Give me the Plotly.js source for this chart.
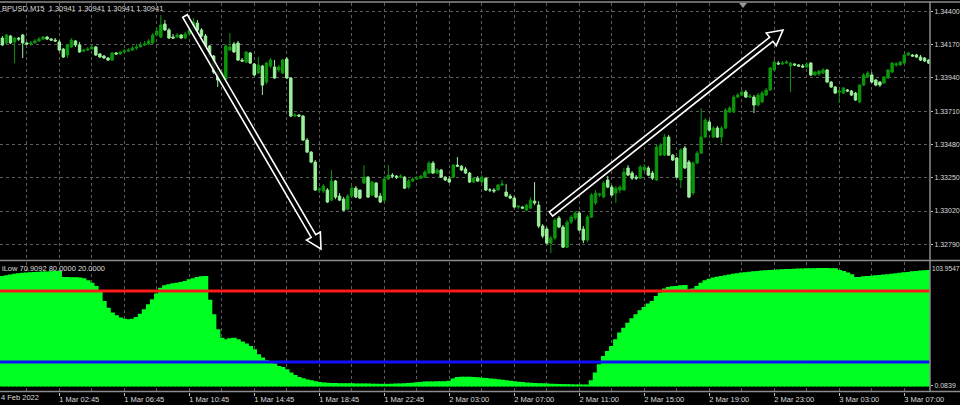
<!DOCTYPE html>
<html>
<head>
<meta charset="utf-8">
<script src="https://cdn.plot.ly/plotly-3.0.1.min.js"></script>
<style>html,body{margin:0;padding:0;background:#000;}#chart{width:960px;height:405px;}</style>
</head>
<body>
<div id="chart"></div>
<script>
// ---- Data (GBPUSD M15 candles) ----
const opens = [
1.34215,1.34181,1.34229,1.34188,1.34215,1.34236,1.34181,1.34174,1.34181,1.34195,
1.34208,1.34222,1.34208,1.34201,1.34188,1.34139,1.34098,1.34153,1.34195,1.34167,
1.34125,1.34132,1.34139,1.34153,1.34105,1.34091,1.34077,1.34063,1.34112,1.34105,
1.34119,1.34125,1.34132,1.34146,1.34153,1.34167,1.34174,1.34181,1.34236,1.34222,
1.34312,1.34271,1.34222,1.34222,1.34236,1.34215,1.34243,1.34271,1.34319,1.34271,
1.34229,1.34160,1.34091,1.33980,1.33925,1.33932,1.34132,1.34174,1.34181,1.34063,
1.34049,1.34112,1.34036,1.33973,1.34022,1.33911,1.34022,1.34015,1.33994,1.33973,
1.34070,1.33939,1.33676,1.33683,1.33676,1.33510,1.33427,1.33358,1.33165,1.33158,
1.33165,1.33095,1.33227,1.33123,1.33102,1.33033,1.33123,1.33178,1.33165,1.33213,
1.33254,1.33130,1.33213,1.33123,1.33095,1.33241,1.33268,1.33261,1.33254,1.33254,
1.33185,1.33227,1.33241,1.33247,1.33254,1.33282,1.33351,1.33282,1.33303,1.33254,
1.33241,1.33254,1.33337,1.33330,1.33310,1.33282,1.33220,1.33247,1.33220,1.33247,
1.33165,1.33165,1.33165,1.33199,1.33151,1.33123,1.33109,1.33047,1.33047,1.33026,
1.33040,1.33088,1.33061,1.32916,1.32895,1.32798,1.32833,1.32971,1.32909,1.32770,
1.32943,1.32971,1.33006,1.32895,1.32819,1.32978,1.33075,1.33130,1.33116,1.33234,
1.33185,1.33144,1.33165,1.33165,1.33317,1.33282,1.33254,1.33247,1.33303,1.33317,
1.33282,1.33234,1.33406,1.33406,1.33531,1.33406,1.33386,1.33234,1.33455,1.33358,
1.33144,1.33351,1.33420,1.33531,1.33635,1.33531,1.33593,1.33531,1.33593,1.33704,
1.33704,1.33807,1.33821,1.33842,1.33807,1.33807,1.33752,1.33773,1.33821,1.33856,
1.33994,1.34042,1.34036,1.34042,1.34022,1.34036,1.34029,1.34022,1.34015,1.34042,
1.33960,1.33966,1.33973,1.33994,1.33911,1.33877,1.33842,1.33835,1.33856,1.33849,
1.33835,1.33773,1.33890,1.33946,1.33960,1.33925,1.33911,1.33904,1.33939,1.33980,
1.34029,1.34029,1.34042,1.34098,1.34098,1.34098,1.34084,1.34077,1.34063
];
const highs = [
1.34229,1.34243,1.34236,1.34222,1.34222,1.34243,1.34188,1.34195,1.34208,1.34222,
1.34229,1.34229,1.34215,1.34215,1.34201,1.34146,1.34174,1.34215,1.34201,1.34188,
1.34139,1.34153,1.34167,1.34160,1.34112,1.34098,1.34084,1.34119,1.34119,1.34125,
1.34139,1.34146,1.34160,1.34174,1.34188,1.34195,1.34208,1.34250,1.34291,1.34374,
1.34340,1.34284,1.34243,1.34250,1.34243,1.34257,1.34298,1.34354,1.34340,1.34284,
1.34243,1.34167,1.34098,1.34008,1.34001,1.34174,1.34250,1.34188,1.34195,1.34077,
1.34125,1.34119,1.34042,1.34084,1.34029,1.34049,1.34077,1.34063,1.34029,1.34070,
1.34084,1.33946,1.33697,1.33690,1.33683,1.33524,1.33434,1.33372,1.33185,1.33206,
1.33178,1.33303,1.33234,1.33144,1.33116,1.33137,1.33192,1.33192,1.33165,1.33337,
1.33261,1.33227,1.33220,1.33144,1.33261,1.33337,1.33282,1.33268,1.33275,1.33261,
1.33241,1.33254,1.33261,1.33268,1.33303,1.33365,1.33365,1.33317,1.33310,1.33261,
1.33261,1.33344,1.33393,1.33337,1.33324,1.33289,1.33254,1.33261,1.33268,1.33254,
1.33178,1.33178,1.33206,1.33234,1.33206,1.33137,1.33123,1.33061,1.33054,1.33068,
1.33116,1.33220,1.33088,1.32929,1.32909,1.32847,1.32971,1.32985,1.32923,1.32957,
1.32992,1.33019,1.33019,1.32916,1.32992,1.33144,1.33165,1.33144,1.33227,1.33261,
1.33199,1.33192,1.33199,1.33317,1.33337,1.33296,1.33268,1.33337,1.33344,1.33330,
1.33296,1.33476,1.33489,1.33552,1.33545,1.33413,1.33393,1.33455,1.33469,1.33372,
1.33365,1.33434,1.33731,1.33662,1.33648,1.33607,1.33607,1.33607,1.33731,1.33745,
1.33821,1.33835,1.33856,1.33856,1.33828,1.33821,1.33835,1.33849,1.33870,1.34015,
1.34063,1.34056,1.34056,1.34063,1.34049,1.34042,1.34036,1.34036,1.34049,1.34049,
1.33987,1.33994,1.34008,1.34001,1.33918,1.33883,1.33856,1.33877,1.33863,1.33856,
1.33842,1.33897,1.33973,1.33987,1.33980,1.33932,1.33918,1.33953,1.34001,1.34049,
1.34049,1.34056,1.34105,1.34119,1.34105,1.34105,1.34098,1.34084,1.34070
];
const lows = [
1.34160,1.34174,1.34174,1.34042,1.34195,1.34077,1.34167,1.34160,1.34181,1.34188,
1.34201,1.34201,1.34195,1.34188,1.34125,1.34077,1.34077,1.34146,1.34153,1.34112,
1.34119,1.34125,1.34139,1.34091,1.34077,1.34070,1.34056,1.34056,1.34098,1.34098,
1.34112,1.34119,1.34125,1.34132,1.34153,1.34160,1.34167,1.34174,1.34229,1.34215,
1.34264,1.34208,1.34208,1.34215,1.34208,1.34208,1.34236,1.34264,1.34264,1.34222,
1.34153,1.34077,1.33966,1.33877,1.33918,1.33925,1.34125,1.34112,1.34056,1.34049,
1.34042,1.34036,1.33953,1.33966,1.33821,1.33897,1.34008,1.33932,1.33980,1.33966,
1.33932,1.33669,1.33669,1.33669,1.33503,1.33420,1.33351,1.33158,1.33144,1.33144,
1.33075,1.33088,1.33102,1.33088,1.33019,1.33026,1.33123,1.33109,1.33102,1.33206,
1.33109,1.33123,1.33109,1.33075,1.33082,1.33234,1.33247,1.33241,1.33247,1.33171,
1.33171,1.33220,1.33234,1.33241,1.33247,1.33275,1.33275,1.33275,1.33247,1.33227,
1.33213,1.33247,1.33324,1.33296,1.33275,1.33213,1.33213,1.33220,1.33213,1.33158,
1.33151,1.33144,1.33158,1.33192,1.33116,1.33102,1.33040,1.33033,1.33033,1.33019,
1.33033,1.33061,1.32902,1.32833,1.32791,1.32729,1.32819,1.32902,1.32764,1.32764,
1.32929,1.32957,1.32881,1.32798,1.32805,1.32971,1.33061,1.33116,1.33109,1.33178,
1.33123,1.33075,1.33144,1.33158,1.33261,1.33234,1.33234,1.33241,1.33296,1.33261,
1.33234,1.33227,1.33400,1.33400,1.33400,1.33365,1.33247,1.33178,1.33310,1.33109,
1.33130,1.33344,1.33413,1.33524,1.33572,1.33524,1.33524,1.33489,1.33586,1.33697,
1.33697,1.33801,1.33814,1.33801,1.33801,1.33697,1.33745,1.33766,1.33814,1.33849,
1.33987,1.34029,1.34029,1.34036,1.33842,1.34022,1.34015,1.34008,1.34008,1.33953,
1.33953,1.33953,1.33966,1.33904,1.33870,1.33828,1.33766,1.33828,1.33842,1.33814,
1.33780,1.33766,1.33883,1.33939,1.33904,1.33883,1.33877,1.33897,1.33932,1.33973,
1.34015,1.34022,1.34036,1.34091,1.34084,1.34077,1.34056,1.34049,1.34036
];
const closes = [
1.34167,1.34236,1.34181,1.34215,1.34208,1.34181,1.34174,1.34181,1.34195,1.34208,
1.34222,1.34208,1.34201,1.34195,1.34132,1.34084,1.34167,1.34201,1.34167,1.34119,
1.34132,1.34139,1.34153,1.34098,1.34084,1.34077,1.34063,1.34112,1.34105,1.34119,
1.34125,1.34132,1.34146,1.34153,1.34167,1.34174,1.34195,1.34236,1.34264,1.34305,
1.34271,1.34215,1.34215,1.34236,1.34215,1.34243,1.34271,1.34326,1.34271,1.34229,
1.34160,1.34091,1.33980,1.33925,1.33973,1.34160,1.34153,1.34119,1.34063,1.34056,
1.34119,1.34042,1.33960,1.34029,1.33890,1.34042,1.34063,1.33939,1.34015,1.34063,
1.33939,1.33676,1.33683,1.33676,1.33510,1.33427,1.33358,1.33165,1.33171,1.33192,
1.33082,1.33227,1.33116,1.33095,1.33026,1.33123,1.33178,1.33116,1.33109,1.33254,
1.33116,1.33220,1.33116,1.33082,1.33241,1.33268,1.33261,1.33254,1.33261,1.33178,
1.33227,1.33241,1.33247,1.33261,1.33289,1.33351,1.33282,1.33303,1.33254,1.33234,
1.33220,1.33337,1.33330,1.33303,1.33282,1.33220,1.33247,1.33227,1.33254,1.33165,
1.33165,1.33158,1.33199,1.33206,1.33123,1.33109,1.33047,1.33054,1.33040,1.33061,
1.33095,1.33075,1.32916,1.32847,1.32798,1.32833,1.32957,1.32909,1.32770,1.32943,
1.32978,1.33006,1.32888,1.32819,1.32978,1.33130,1.33144,1.33137,1.33213,1.33185,
1.33130,1.33178,1.33185,1.33289,1.33268,1.33247,1.33247,1.33324,1.33324,1.33268,
1.33247,1.33462,1.33476,1.33531,1.33406,1.33372,1.33254,1.33441,1.33317,1.33116,
1.33351,1.33420,1.33531,1.33648,1.33579,1.33593,1.33531,1.33593,1.33718,1.33731,
1.33807,1.33821,1.33842,1.33807,1.33814,1.33752,1.33821,1.33835,1.33856,1.34008,
1.34049,1.34036,1.34042,1.34049,1.34042,1.34029,1.34022,1.34015,1.34036,1.33960,
1.33980,1.33987,1.33994,1.33911,1.33877,1.33835,1.33849,1.33870,1.33849,1.33821,
1.33787,1.33890,1.33960,1.33973,1.33911,1.33890,1.33890,1.33946,1.33994,1.34042,
1.34036,1.34049,1.34098,1.34112,1.34091,1.34084,1.34063,1.34056,1.34042
];
// Indicator histogram (lower pane)
const indicator = [
92.1,92.8,93.5,94.0,94.4,94.8,95.1,95.3,95.5,95.7,95.9,96.0,96.2,96.3,96.4,
91.2,91.2,91.0,91.0,90.8,
90.2,88.5,86.5,83.7,79.5,71.0,65.4,61.2,58.9,57.0,56.1,55.5,56.1,57.5,60.3,64.0,68.2,72.4,77.3,82.3,84.3,85.1,86.0,86.5,87.1,87.9,89.3,90.2,91.3,91.9,92.1,
72.0,59.8,47.1,40.0,38.6,39.5,40.0,38.6,36.7,35.0,33.0,30.2,26.0,23.2,20.9,20.3,18.1,16.1,15.2,13.3,10.5,8.5,6.8,5.7,4.6,4.0,3.1,2.5,
2.2,2.0,1.8,1.7,1.6,1.5,1.4,1.4,1.3,1.3,1.2,1.2,1.1,1.1,1.0,1.0,1.0,1.1,1.2,1.3,1.5,1.7,
2.0,2.3,2.6,2.9,3.0,3.0,3.1,3.1,3.2,3.6,5.5,6.8,7.1,7.1,7.0,6.8,6.6,
6.2,5.9,5.5,5.2,4.8,4.4,4.0,3.6,3.2,2.8,2.5,2.2,2.0,1.8,1.6,1.4,1.3,1.1,1.0,0.9,0.8,0.7,0.6,0.5,0.5,0.4,0.4,
4.0,10.5,17.5,24.5,28.8,33.0,38.6,44.3,48.5,52.7,56.4,59.8,63.1,65.9,68.8,71.0,75.2,78.1,81.5,82.8,83.4,83.7,84.3,84.5,
80.9,81.5,83.7,86.5,88.5,89.9,90.8,91.6,92.1,92.7,93.3,94.0,94.4,95.0,95.4,95.8,96.1,96.4,96.7,97.0,97.2,97.5,97.7,97.8,98.0,98.1,98.3,98.4,98.5,98.6,98.7,98.7,98.8,98.8,98.8,98.7,98.7,
97.3,96.4,95.0,93.6,91.3,91.3,91.9,92.1,92.4,92.7,93.0,93.3,93.6,94.0,94.4,94.8,95.3,95.6,96.1,96.4,96.7,96.9,97.3
];
const levels = [80, 20];
const levelColors = ['#ff1a1a', '#1010ff'];
const tickLabels = ['1 Mar 02:45','1 Mar 06:45','1 Mar 10:45','1 Mar 14:45','1 Mar 18:45','1 Mar 22:45',
  '2 Mar 03:00','2 Mar 07:00','2 Mar 11:00','2 Mar 15:00','2 Mar 19:00','2 Mar 23:00','3 Mar 03:00','3 Mar 07:00'];
const missingSlots = ['2 Mar 00:00'];
const priceTick0 = 1.32790, priceStep = 0.00230;
const indMin = 0.0839, indMax = 103.9547;
const headerText = 'BPUSD,M15  1.30941 1.30941 1.30941 1.30941';
const indText = 'iLow 70.9092 80.0000 20.0000';
const firstDateText = '4 Feb 2022';

// ---- Bar times ----
const months = ['Jan','Feb','Mar','Apr','May','Jun','Jul','Aug','Sep','Oct','Nov','Dec'];
const pad = n => (n < 10 ? '0' : '') + n;
const times = [];
let t = Date.UTC(2022, 1, 28, 23, 15);
while (times.length < closes.length) {
  const d = new Date(t);
  const lab = d.getUTCDate() + ' ' + months[d.getUTCMonth()] + ' ' + pad(d.getUTCHours()) + ':' + pad(d.getUTCMinutes());
  if (!missingSlots.includes(lab)) times.push(lab);
  t += 15 * 60000;
}
const idx = times.map((_, i) => i);
const tickvals = tickLabels.map(l => times.indexOf(l));

// ---- geometry helpers (pixel -> paper) ----
const PW = 930, PT = 3, PB = 392, PH = PB - PT;
const px = x => x / PW;
const py = y => (PB - y) / PH;
function arrowPath(x0, y0, x1, y1, sw, hw, hl) {
  const dx = x1 - x0, dy = y1 - y0, L = Math.hypot(dx, dy);
  const ux = dx / L, uy = dy / L, nx = -uy, ny = ux;
  const bx = x1 - ux * hl, by = y1 - uy * hl;
  const pts = [
    [x0 + nx * sw, y0 + ny * sw], [bx + nx * sw, by + ny * sw], [bx + nx * hw, by + ny * hw],
    [x1, y1], [bx - nx * hw, by - ny * hw], [bx - nx * sw, by - ny * sw], [x0 - nx * sw, y0 - ny * sw]
  ];
  return 'M' + pts.map(p => px(p[0]).toFixed(5) + ',' + py(p[1]).toFixed(5)).join(' L') + ' Z';
}

const font = 'Liberation Sans, Arial, sans-serif';
const gridCol = '#5e5e5e';
const xStart = -0.59, xEnd = xStart + PW / 4.0625;

const traces = [
  {
    type: 'candlestick', x: idx, open: opens, high: highs, low: lows, close: closes,
    xaxis: 'x', yaxis: 'y', whiskerwidth: 0, hoverinfo: 'skip',
    increasing: { line: { color: '#0c960c', width: 1 }, fillcolor: '#0c960c' },
    decreasing: { line: { color: '#9af09a', width: 1 }, fillcolor: '#9af09a' }
  },
  {
    type: 'bar', x: idx, y: indicator, xaxis: 'x', yaxis: 'y2', width: 1,
    marker: { color: '#00ff22', line: { width: 1.4, color: '#00ff22' } }, hoverinfo: 'skip'
  }
];
levels.forEach((lv, k) => traces.push({
  type: 'scatter', mode: 'lines', x: [idx[0] - 2, idx[idx.length - 1] + 2], y: [lv, lv],
  xaxis: 'x', yaxis: 'y2', line: { color: levelColors[k], width: 3 }, hoverinfo: 'skip'
}));

const line = { color: '#8c8c8c', width: 1.5 };
const shapes = [
  { type: 'line', xref: 'paper', yref: 'paper', x0: 0, x1: 1.04, y0: py(2), y1: py(2), line: line },
  { type: 'line', xref: 'paper', yref: 'paper', x0: 0, x1: 1.04, y0: py(260.5), y1: py(260.5), line: line },
  { type: 'line', xref: 'paper', yref: 'paper', x0: 0, x1: 1.04, y0: py(391.5), y1: py(391.5), line: line },
  { type: 'line', xref: 'paper', yref: 'paper', x0: 1, x1: 1, y0: py(391.5), y1: py(2), line: line },
  { type: 'path', xref: 'paper', yref: 'paper', path: 'M' + px(739) + ',' + py(3) + ' L' + px(747) + ',' + py(3) + ' L' + px(743) + ',' + py(8) + ' Z',
    fillcolor: '#9a9a9a', line: { width: 0 } },
  { type: 'path', xref: 'paper', yref: 'paper', path: arrowPath(185, 16, 321, 249, 2.6, 8, 15),
    fillcolor: 'rgba(0,0,0,0.85)', line: { color: '#ffffff', width: 1.6 } },
  { type: 'path', xref: 'paper', yref: 'paper', path: arrowPath(551, 214, 783, 30, 2.6, 8, 15),
    fillcolor: 'rgba(0,0,0,0.85)', line: { color: '#ffffff', width: 1.6 } }
];

const tf = { family: font, size: 7.5, color: '#dcdcdc' };
const tfy = { family: font, size: 7, color: '#dcdcdc' };
const tfs = { family: font, size: 6.6, color: '#dcdcdc' };
const layout = {
  width: 960, height: 405,
  margin: { l: 0, r: 30, t: PT, b: 405 - PB },
  paper_bgcolor: '#000', plot_bgcolor: '#000',
  showlegend: false, bargap: 0, boxgap: 0.25, boxgroupgap: 0.2,
  xaxis: {
    domain: [0, 1], range: [xStart, xEnd], anchor: 'y2',
    rangeslider: { visible: false },
    tickmode: 'array', tickvals: tickvals, ticktext: tickLabels,
    ticks: 'outside', ticklen: 3, tickcolor: '#bdbdbd', tickfont: tf, ticklabelshift: 20, ticklabelstandoff: -3,
    showgrid: true, gridcolor: gridCol, griddash: 'dot', gridwidth: 1,
    minor: { tickmode: 'linear', tick0: tickvals[0] - 8, dtick: 8, showgrid: true, gridcolor: gridCol, griddash: 'dot', gridwidth: 1, ticks: '' },
    zeroline: false, showline: false, fixedrange: true
  },
  yaxis: {
    domain: [py(259), 1], range: [1.34478 - 0.0000691 * 259, 1.34478 - 0.0000691 * 3], anchor: 'x', side: 'right',
    tickmode: 'linear', tick0: priceTick0, dtick: priceStep, tickformat: '.5f',
    ticks: 'outside', ticklen: 2, tickcolor: '#bdbdbd', tickfont: tfy,
    showgrid: true, gridcolor: gridCol, griddash: 'dot', gridwidth: 1,
    zeroline: false, showline: false, fixedrange: true
  },
  yaxis2: {
    domain: [0, py(262)], range: [-5.3, 104.55], anchor: 'x', side: 'right',
    tickmode: 'array', tickvals: [indMin], ticktext: [indMin.toFixed(4)],
    ticks: 'outside', ticklen: 2, tickcolor: '#bdbdbd', tickfont: tfy,
    showgrid: true, gridcolor: gridCol, griddash: 'dot', gridwidth: 1,
    zeroline: false, showline: false, fixedrange: true
  },
  shapes: shapes,
  annotations: [
    { xref: 'paper', yref: 'paper', x: px(0), y: py(8), xanchor: 'left', yanchor: 'middle', showarrow: false, text: headerText, font: tf },
    { xref: 'paper', yref: 'paper', x: px(0), y: py(268), xanchor: 'left', yanchor: 'middle', showarrow: false, text: indText, font: tf },
    { xref: 'paper', yref: 'paper', x: px(930), y: py(268), xanchor: 'left', yanchor: 'middle', showarrow: false, text: indMax.toFixed(4), font: tfs },
    { xref: 'paper', yref: 'paper', x: px(-1), y: py(397), xanchor: 'left', yanchor: 'middle', showarrow: false, text: firstDateText, font: tf }
  ]
};

Plotly.newPlot('chart', traces, layout, { staticPlot: true, displayModeBar: false });
</script>
</body>
</html>
